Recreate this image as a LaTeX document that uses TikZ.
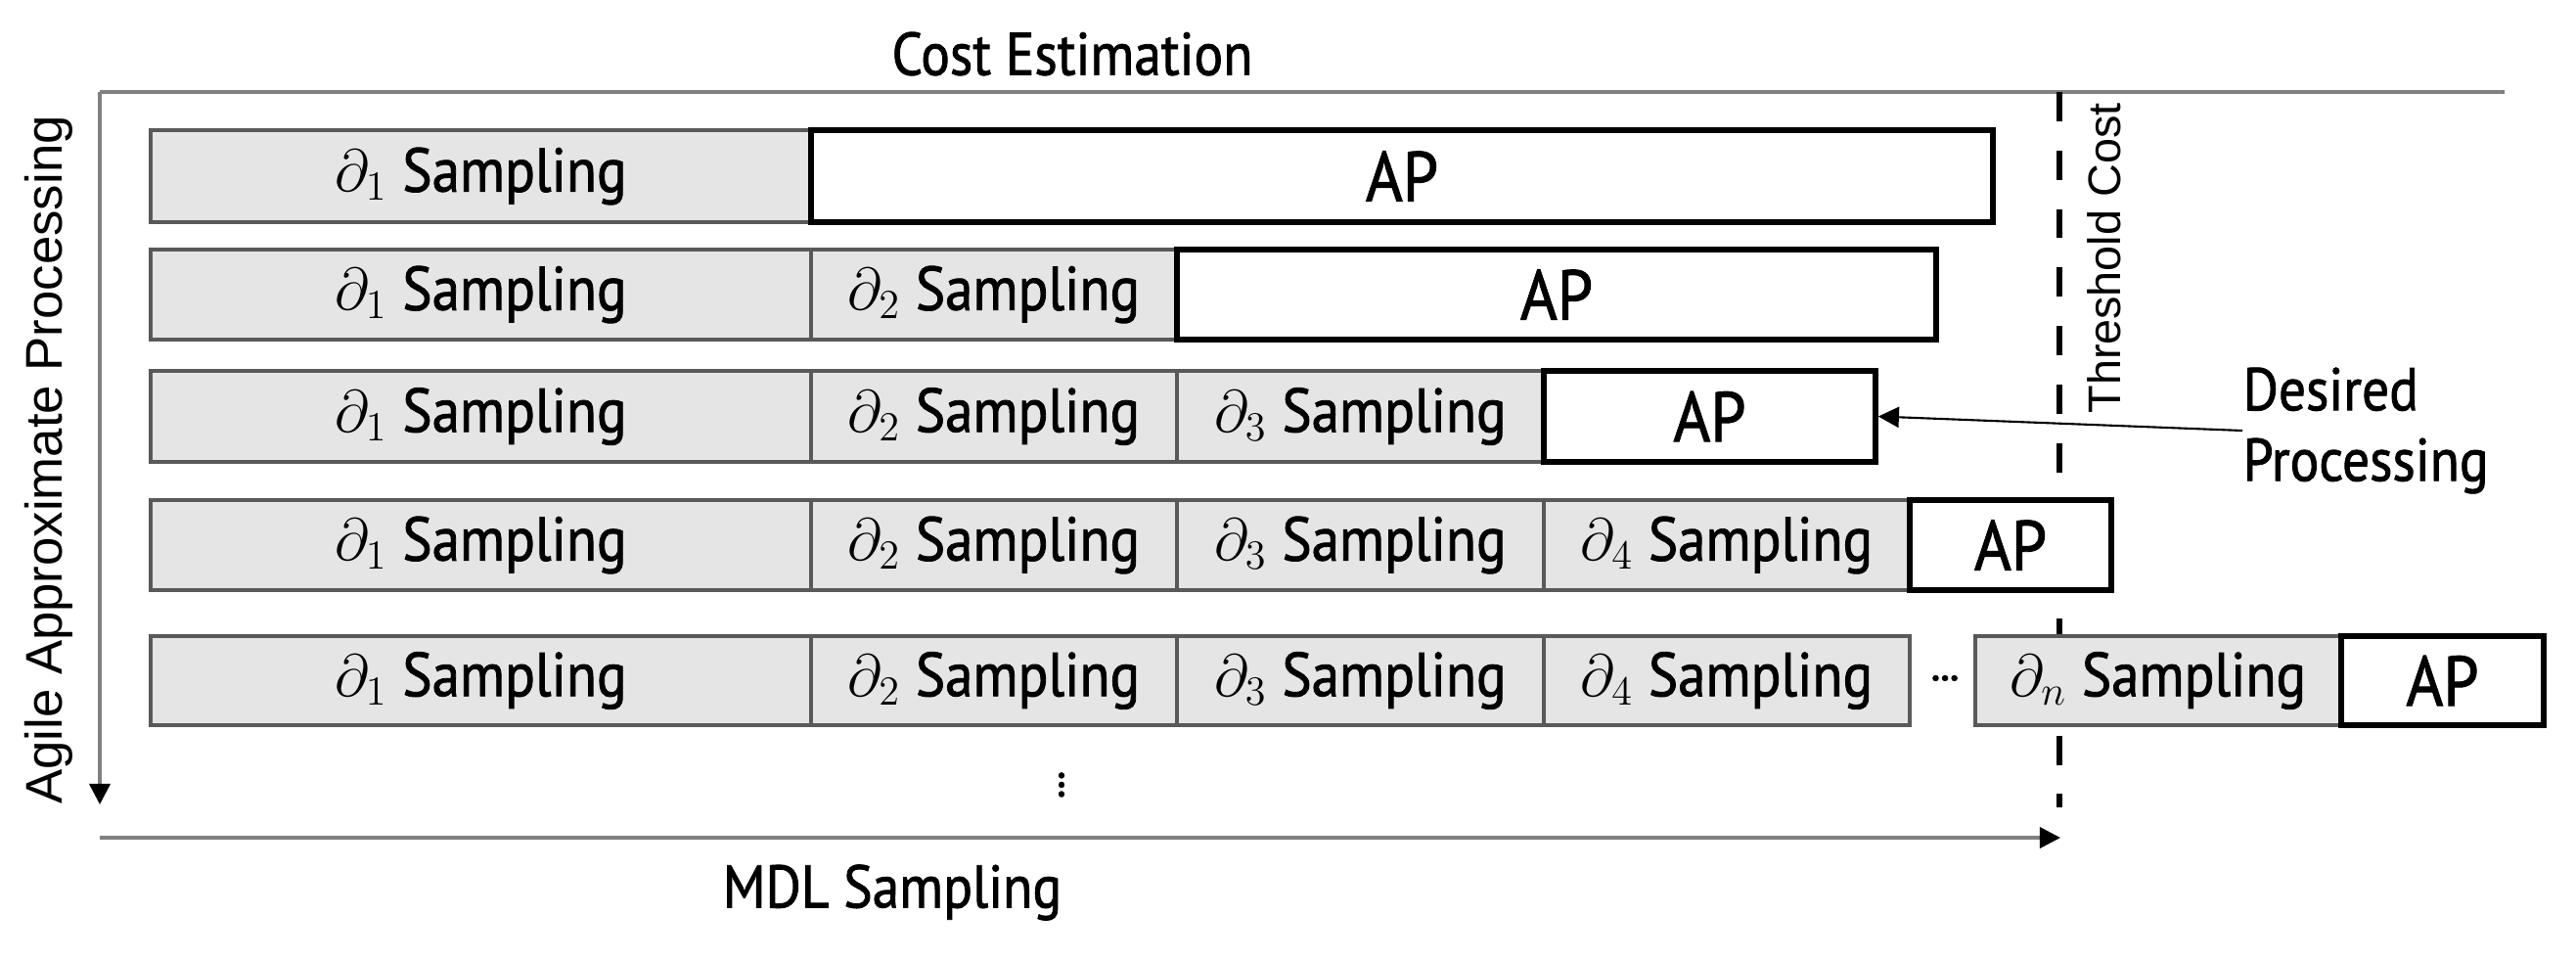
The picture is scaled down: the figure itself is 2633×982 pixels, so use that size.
\documentclass[tikz,border=0pt]{standalone}
\usepackage{fontspec}
\setmainfont{PT Sans}[FakeBold=1.3, FakeStretch=0.9]
\newfontfamily\arialf{Liberation Sans}
\newfontfamily\dotf{PT Sans Bold}[FakeBold=2]
\usetikzlibrary{arrows.meta}
\newcommand\bx[7]{%
  \pgfmathsetmacro\bxcx{(#3+#4)/2}%
  \pgfmathsetmacro\bxcy{(#5+#6)/2}%
  \pgfmathsetmacro\bxw{(#4-#3)*0.01}%
  \pgfmathsetmacro\bxh{(#6-#5)*0.01}%
  \node[#1, minimum width=\bxw cm, minimum height=\bxh cm] (#2) at (\bxcx,\bxcy) {#7};}
\begin{document}
\begin{tikzpicture}[x=0.01cm,y=-0.01cm,
  sbox/.style={draw=black!65, line width=0.9pt, fill=black!10, inner sep=0pt,
    font=\fontsize{18}{21}\selectfont},
  apbox/.style={draw=black, line width=1.6pt, fill=white, inner sep=0pt,
    font=\fontsize{20.5}{24}\selectfont},
  axis/.style={draw=black!50, line width=1pt},
  tip/.style={-{Triangle[length=6pt,width=6pt,color=black]}},
  lbl/.style={font=\fontsize{17.5}{21}\selectfont, inner sep=0pt},
  side/.style={font=\arialf\fontsize{15}{18}\selectfont, inner sep=0pt, rotate=90},
  dotsty/.style={font=\dotf\fontsize{10}{10}\selectfont, inner sep=0pt},
  thresh/.style={line width=1.7pt, dash pattern=on 8.5pt off 8.5pt}
]
\useasboundingbox (0,0) rectangle (2633,982);

% axes and threshold
\coordinate (tl) at (102,94);
\coordinate (tr) at (2560,94);
\coordinate (vb) at (102,822);
\coordinate (bl) at (102,856);
\coordinate (br) at (2106,856);
\coordinate (th1) at (2105,94);
\coordinate (th2) at (2105,825);
\draw[axis] (tl) -- (tr);
\draw[axis,tip] (tl) -- (vb);
\draw[axis,tip] (bl) -- (br);
\draw[thresh] (th1) -- (th2);

% labels
\node[lbl] (cost) at (1096,55) {Cost Estimation};
\node[lbl] (mdl) at (912,912) {MDL Sampling};
\node[side] (agile) at (50,470) {Agile Approximate Processing};
\node[side, font=\arialf\fontsize{13.3}{16}\selectfont] (thc) at (2151,264) {Threshold Cost};

% row 1
\bx{sbox}{r1a}{154}{829}{133}{227}{$\partial_1$ Sampling}
\bx{apbox}{r1p}{829}{2037}{133}{227}{AP}
% row 2
\bx{sbox}{r2a}{154}{829}{255}{347}{$\partial_1$ Sampling}
\bx{sbox}{r2b}{829}{1203}{255}{347}{$\partial_2$ Sampling}
\bx{apbox}{r2p}{1203}{1979}{255}{347}{AP}
% row 3
\bx{sbox}{r3a}{154}{829}{379}{472}{$\partial_1$ Sampling}
\bx{sbox}{r3b}{829}{1203}{379}{472}{$\partial_2$ Sampling}
\bx{sbox}{r3c}{1203}{1578}{379}{472}{$\partial_3$ Sampling}
\bx{apbox}{r3p}{1578}{1917}{379}{472}{AP}
% row 4
\bx{sbox}{r4a}{154}{829}{511}{603}{$\partial_1$ Sampling}
\bx{sbox}{r4b}{829}{1203}{511}{603}{$\partial_2$ Sampling}
\bx{sbox}{r4c}{1203}{1578}{511}{603}{$\partial_3$ Sampling}
\bx{sbox}{r4d}{1578}{1952}{511}{603}{$\partial_4$ Sampling}
\bx{apbox}{r4p}{1952}{2158}{511}{603}{AP}
% row 5
\bx{sbox}{r5a}{154}{829}{650}{741}{$\partial_1$ Sampling}
\bx{sbox}{r5b}{829}{1203}{650}{741}{$\partial_2$ Sampling}
\bx{sbox}{r5c}{1203}{1578}{650}{741}{$\partial_3$ Sampling}
\bx{sbox}{r5d}{1578}{1952}{650}{741}{$\partial_4$ Sampling}
\node[dotsty] (hdots) at (1988,693) {…};
\bx{sbox}{r5n}{2019}{2393}{650}{741}{$\partial_n$ Sampling}
\bx{apbox}{r5p}{2393}{2600}{650}{741}{AP}

\node[dotsty, rotate=90] (vdots) at (1085,802) {…};

% desired processing
\node[lbl, font=\fontsize{17.5}{20.5}\selectfont, align=left, anchor=west] (dp) at (2292,440) {Desired\\Processing};
\draw[line width=0.6pt, -{Triangle[length=6pt,width=6pt]}] (dp.west) -- (r3p.east);
\end{tikzpicture}
\end{document}
